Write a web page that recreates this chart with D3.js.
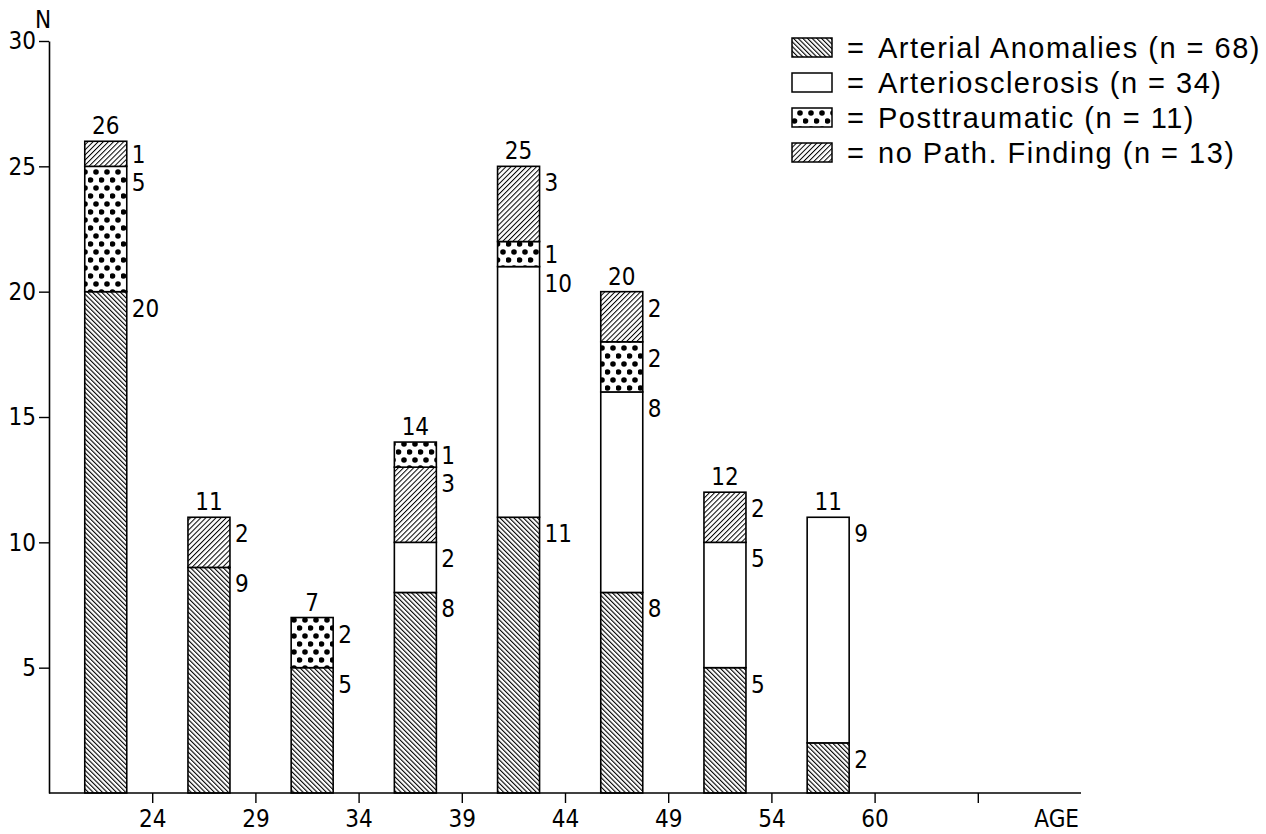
<!DOCTYPE html>
<html>
<head>
<meta charset="utf-8">
<script src="https://cdn.jsdelivr.net/npm/d3@7"></script>
<style>
body{margin:0;background:#fff}
text{fill:#000}
</style>
</head>
<body>
<div id="chart"></div>
<script>

var groups = ["<=24","25-29","30-34","35-39","40-44","45-49","50-54","55-60"];
var tickLabels = ["24","29","34","39","44","49","54","60",""];
var yTicks = [5,10,15,20,25,30];

var legendLabels = ["Arterial Anomalies (n = 68)","Arteriosclerosis (n = 34)","Posttraumatic (n = 11)","no Path. Finding (n = 13)"];

var arterial      = [20, 9, 5, 8, 11, 8, 5, 2];
var arterio       = [ 0, 0, 0, 2, 10, 8, 5, 9];
var posttraumatic = [ 5, 0, 2, 1,  1, 2, 0, 0];
var noFinding     = [ 1, 2, 0, 3,  3, 2, 2, 0];

// bottom to top, per bar (bar 35-39 has the dotted part on top)
var stackOrder = [[0,1,2,3],[0,1,2,3],[0,1,2,3],[0,1,3,2],[0,1,2,3],[0,1,2,3],[0,1,2,3],[0,1,2,3]];

var W = 1266, H = 834;
var font = "'DejaVu Sans Condensed',sans-serif";
var fs = "24px";

var series = [arterial, arterio, posttraumatic, noFinding];
var fills = ["url(#back)","#fff","url(#dots)","url(#fwd)"];

var svg = d3.select("#chart").append("svg")
	.attr("width",W).attr("height",H)
	.attr("viewBox","0 0 "+W+" "+H);

var X = d3.scaleLinear().domain([0,10]).range([49,1081]),
	Y = d3.scaleLinear().domain([0,30]).range([793,41]);

var barw = 42;

// patterns
var defs = svg.append("defs");

var back = defs.append("pattern").attr("id","back")
	.attr("patternUnits","userSpaceOnUse").attr("width",3.3).attr("height",3.3)
	.attr("patternTransform","rotate(-45)");
back.append("rect").attr("width",3.3).attr("height",3.3).attr("fill","#fff");
back.append("line").attr("x1",0).attr("y1",0).attr("x2",0).attr("y2",3.3)
	.attr("stroke","#000").attr("stroke-width",2.2);

var fwd = defs.append("pattern").attr("id","fwd")
	.attr("patternUnits","userSpaceOnUse").attr("width",3.6).attr("height",3.6)
	.attr("patternTransform","rotate(45)");
fwd.append("rect").attr("width",3.6).attr("height",3.6).attr("fill","#fff");
fwd.append("line").attr("x1",0).attr("y1",0).attr("x2",0).attr("y2",3.6)
	.attr("stroke","#000").attr("stroke-width",2);

var dots = defs.append("pattern").attr("id","dots")
	.attr("patternUnits","userSpaceOnUse").attr("width",11).attr("height",16);
dots.append("rect").attr("width",11).attr("height",16).attr("fill","#fff");
dots.selectAll("circle").data([[2.5,4],[8,12]]).enter().append("circle")
	.attr("cx",function(d){return d[0]}).attr("cy",function(d){return d[1]})
	.attr("r",2.8).attr("fill","#000");

// build segments
var segs = [], totals = [];
groups.forEach(function(g,i){
	var base = 0;
	stackOrder[i].forEach(function(k){
		var v = series[k][i];
		if(v>0){
			segs.push({i:i,k:k,v:v,y0:base,y1:base+v});
			base += v;
		}
	});
	totals.push({i:i,v:base});
});

function barX(i){ return X(i+0.55)-barw/2; }

svg.selectAll(".seg").data(segs).enter().append("rect")
	.attr("class","seg")
	.attr("x",function(d){return barX(d.i)})
	.attr("y",function(d){return Y(d.y1)})
	.attr("width",barw)
	.attr("height",function(d){return Y(d.y0)-Y(d.y1)})
	.attr("fill",function(d){return fills[d.k]})
	.attr("stroke","#000").attr("stroke-width",1.6);

svg.selectAll(".seglab").data(segs).enter().append("text")
	.attr("class","seglab")
	.attr("x",function(d){return barX(d.i)+barw+5})
	.attr("y",function(d){
		var h = Y(d.y0)-Y(d.y1);
		return Y(d.y1)+Math.min(h/2,16)+9;
	})
	.style("font-family",font).style("font-size",fs)
	.text(function(d){return d.v});

svg.selectAll(".tot").data(totals).enter().append("text")
	.attr("class","tot")
	.attr("x",function(d){return barX(d.i)+barw/2})
	.attr("y",function(d){return Y(d.v)-7})
	.attr("text-anchor","middle")
	.style("font-family",font).style("font-size",fs)
	.text(function(d){return d.v});

// axes
var xAxis = d3.axisBottom(X).tickValues(d3.range(1,10))
	.tickFormat(function(d){return tickLabels[d-1]})
	.tickSize(10).tickPadding(7).tickSizeOuter(0);
var gx = svg.append("g").attr("transform","translate(0,"+Y(0)+")").call(xAxis);

var yAxis = d3.axisLeft(Y).tickValues(yTicks).tickSize(10).tickPadding(3).tickSizeOuter(0);
var gy = svg.append("g").attr("transform","translate("+X(0)+",0)").call(yAxis);

[gx,gy].forEach(function(g){
	g.select(".domain").attr("stroke","#000").attr("stroke-width",1.6);
	g.selectAll(".tick line").attr("stroke","#000").attr("stroke-width",1.4);
	g.selectAll("text").style("font-family",font).style("font-size",fs).attr("fill","#000");
});
gx.select(".domain").attr("d","M"+X(0)+",0H"+X(10));

svg.append("text").attr("x",X(10)-2).attr("y",Y(0)+34)
	.attr("text-anchor","end")
	.style("font-family",font).style("font-size",fs).text("AGE");

svg.append("text").attr("x",X(0)-6).attr("y",Y(30)-13)
	.attr("text-anchor","middle")
	.style("font-family",font).style("font-size",fs).text("N");

// legend
var lg = svg.selectAll(".leg").data(legendLabels).enter().append("g")
	.attr("class","leg")
	.attr("transform",function(d,i){return "translate(792,"+(47+i*35)+")"});

lg.append("rect").attr("x",0).attr("y",-9).attr("width",40).attr("height",19)
	.attr("fill",function(d,i){return fills[i]})
	.attr("stroke","#000").attr("stroke-width",1.5);

lg.append("text").attr("x",55).attr("y",11)
	.style("font-family","'Liberation Sans',Arial,sans-serif").style("font-size","29px")
	.text("=");

lg.append("text").attr("x",86).attr("y",11)
	.style("font-family","'Liberation Sans',Arial,sans-serif").style("font-size","29px")
	.style("letter-spacing","1.5px")
	.text(function(d){return d});

</script>
</body>
</html>
